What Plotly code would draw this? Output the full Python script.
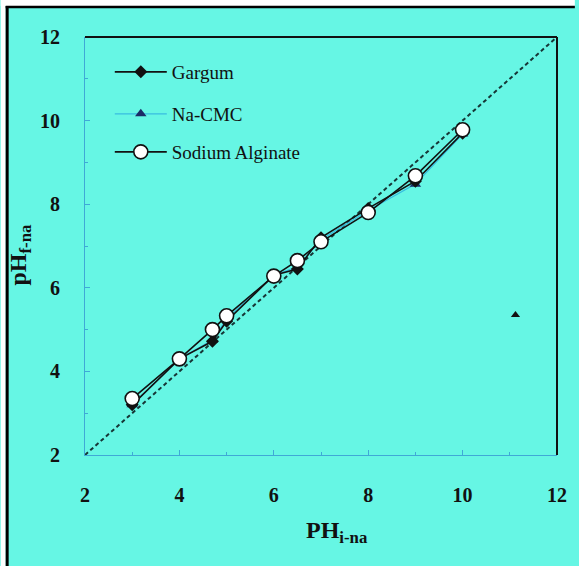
import plotly.graph_objects as go

# Data
ph_initial = [3, 4, 4.7, 5, 6, 6.5, 7, 8, 9, 10]
gargum = [3.2, 4.3, 4.72, 5.2, 6.3, 6.45, 7.2, 7.9, 8.55, 9.7]
na_cmc = [3.2, 4.3, 4.75, 5.25, 6.3, 6.5, 7.15, 7.85, 8.48, 9.68]
sodium_alginate = [3.35, 4.3, 5.0, 5.33, 6.28, 6.65, 7.1, 7.8, 8.68, 9.78]
diag = [2, 12]
stray_x = [11.12]
stray_y = [5.35]
tick_vals = [2, 4, 6, 8, 10, 12]
tick_text = ["2", "4", "6", "8", "10", "12"]

BG = "#66F6E4"
AXC = "#3FA9D6"
SERIF = "Liberation Serif, Times New Roman, serif"
W, H = 579, 566
L, R, T, B = 85, 18, 37, 111
pw, ph = W - L - R, H - T - B

def px_to_paper_x(px):
    return (px - L) / pw

def px_to_paper_y(py):
    return (H - B - py) / ph

fig = go.Figure()

fig.add_trace(go.Scatter(x=diag, y=diag, mode="lines", showlegend=False,
                         line=dict(color="#163636", width=2, dash="4px,3px")))

fig.add_trace(go.Scatter(x=ph_initial, y=na_cmc, mode="lines+markers", name="Na-CMC",
                         legend="legend2",
                         line=dict(color="#38BCE0", width=1.2),
                         marker=dict(symbol="triangle-up", size=10, color="#1B2A66")))

fig.add_trace(go.Scatter(x=ph_initial, y=gargum, mode="lines+markers", name="Gargum",
                         legend="legend",
                         line=dict(color="#111111", width=1.6),
                         marker=dict(symbol="diamond", size=10, color="#111111")))

fig.add_trace(go.Scatter(x=ph_initial, y=sodium_alginate, mode="lines+markers",
                         name="Sodium Alginate", legend="legend3",
                         line=dict(color="#111111", width=1.6),
                         marker=dict(symbol="circle", size=14, color="white",
                                     line=dict(color="#111111", width=1.6))))

fig.add_trace(go.Scatter(x=stray_x, y=stray_y, mode="markers", showlegend=False,
                         marker=dict(symbol="triangle-up", size=8, color="#111111")))

legend_font = dict(family=SERIF, size=19, color="#111111")
leg_common = dict(xanchor="left", yanchor="middle", bgcolor="rgba(0,0,0,0)",
                  font=legend_font, itemwidth=52)

tickfont = dict(family=SERIF, size=20, color="#111111", weight="bold")
minor_ticks = dict(tickvals=[3, 5, 7, 9, 11], ticks="inside", ticklen=3,
                   tickcolor=AXC, showgrid=False)

fig.update_layout(
    width=W, height=H,
    margin=dict(l=L, r=R, t=T, b=B),
    paper_bgcolor=BG, plot_bgcolor=BG,
    legend=dict(x=px_to_paper_x(110), y=px_to_paper_y(72), **leg_common),
    legend2=dict(x=px_to_paper_x(110), y=px_to_paper_y(114), **leg_common),
    legend3=dict(x=px_to_paper_x(110), y=px_to_paper_y(152), **leg_common),
    xaxis=dict(range=[2, 12], tickvals=tick_vals, ticktext=tick_text,
               showgrid=False, zeroline=False, showline=True, linecolor=AXC,
               linewidth=1, ticks="inside", ticklen=5, tickcolor=AXC,
               tickfont=tickfont, ticklabelstandoff=22, minor=minor_ticks),
    yaxis=dict(range=[2, 12], tickvals=tick_vals, ticktext=tick_text,
               showgrid=False, zeroline=False, showline=True, linecolor=AXC,
               linewidth=1, ticks="inside", ticklen=5, tickcolor=AXC,
               tickfont=tickfont, ticklabelstandoff=20, minor=minor_ticks),
    shapes=[
        # white strips outside the scanned frame
        dict(type="rect", xref="paper", yref="paper",
             x0=px_to_paper_x(0), x1=px_to_paper_x(5),
             y0=px_to_paper_y(566), y1=px_to_paper_y(0),
             fillcolor="white", line=dict(width=0)),
        dict(type="rect", xref="paper", yref="paper",
             x0=px_to_paper_x(0), x1=px_to_paper_x(579),
             y0=px_to_paper_y(6), y1=px_to_paper_y(0),
             fillcolor="white", line=dict(width=0)),
        # plot frame: top and right
        dict(type="line", xref="paper", yref="paper", x0=0, x1=1, y0=1, y1=1,
             line=dict(color="#111111", width=2)),
        dict(type="line", xref="paper", yref="paper", x0=1, x1=1, y0=0, y1=1,
             line=dict(color="#111111", width=2)),
        # outer scan border: left and top
        dict(type="line", xref="paper", yref="paper",
             x0=px_to_paper_x(6.5), x1=px_to_paper_x(6.5),
             y0=px_to_paper_y(566), y1=px_to_paper_y(6),
             line=dict(color="#000000", width=3)),
        dict(type="line", xref="paper", yref="paper",
             x0=px_to_paper_x(5), x1=px_to_paper_x(579),
             y0=px_to_paper_y(7), y1=px_to_paper_y(7),
             line=dict(color="#000000", width=2.5)),
    ],
    annotations=[
        dict(text="<b>PH<sub>i-na</sub></b>", xref="paper", yref="paper",
             x=px_to_paper_x(339), y=px_to_paper_y(532), showarrow=False,
             xanchor="center", yanchor="middle",
             font=dict(family=SERIF, size=24, color="#111111")),
        dict(text="<b>pH<sub>f-na</sub></b>", xref="paper", yref="paper",
             x=px_to_paper_x(19), y=px_to_paper_y(255), showarrow=False,
             xanchor="center", yanchor="middle", textangle=-90,
             font=dict(family=SERIF, size=24, color="#111111")),
    ],
)

fig.write_html(
    "out.html",
    config={"displayModeBar": False},
    post_script="document.body.style.margin='0';document.body.style.overflow='hidden';",
)
